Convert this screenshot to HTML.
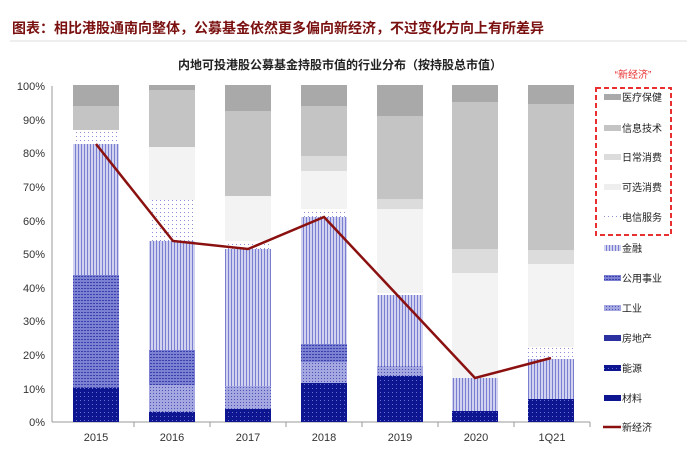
<!DOCTYPE html><html><head><meta charset="utf-8"><style>body{margin:0;background:#fff}svg{display:block}text{font-family:"Liberation Sans","Noto Sans CJK SC",sans-serif}</style></head><body>
<svg width="687" height="450" xmlns="http://www.w3.org/2000/svg">
<defs>
<pattern id="tel" width="4" height="4" patternUnits="userSpaceOnUse"><rect width="4" height="4" fill="#fff"/><rect width="1" height="1" fill="#8d90d6"/></pattern>
<pattern id="fin" width="3" height="3" patternUnits="userSpaceOnUse"><rect width="3" height="3" fill="#d0d2f0"/><rect width="1" height="3" fill="#7a7ed0"/></pattern>
<pattern id="pub" width="3" height="3" patternUnits="userSpaceOnUse"><rect width="3" height="3" fill="#7d81d2"/><rect width="2" height="1" fill="#3a3fae"/></pattern>
<pattern id="ind" width="3" height="3" patternUnits="userSpaceOnUse"><rect width="3" height="3" fill="#a4a7e0"/><rect width="1" height="1" fill="#4c51b8"/></pattern>
<pattern id="dk" width="4" height="4" patternUnits="userSpaceOnUse"><rect width="4" height="4" fill="#0d1590"/><rect width="1" height="1" fill="#6a70c8"/></pattern>
</defs>
<text x="12" y="33" font-size="14" font-weight="bold" fill="#7a1010">图表：相比港股通南向整体，公募基金依然更多偏向新经济，不过变化方向上有所差异</text>
<line x1="10" y1="41" x2="687" y2="41" stroke="#ddd"/>
<text x="340" y="69" font-size="12" font-weight="bold" text-anchor="middle" fill="#222">内地可投港股公募基金持股市值的行业分布（按持股总市值）</text>
<g font-size="11" fill="#333" text-anchor="end">
<text x="45" y="90">100%</text><text x="45" y="124">90%</text><text x="45" y="157">80%</text><text x="45" y="191">70%</text><text x="45" y="225">60%</text><text x="45" y="258">50%</text><text x="45" y="292">40%</text><text x="45" y="325">30%</text><text x="45" y="359">20%</text><text x="45" y="393">10%</text><text x="45" y="426">0%</text>
</g>
<line x1="52" y1="86" x2="52" y2="422" stroke="#999"/>
<line x1="52" y1="422" x2="590" y2="422" stroke="#999"/>
<g stroke="#999"><line x1="134" y1="422" x2="134" y2="427"/><line x1="210" y1="422" x2="210" y2="427"/><line x1="286" y1="422" x2="286" y2="427"/><line x1="362" y1="422" x2="362" y2="427"/><line x1="438" y1="422" x2="438" y2="427"/><line x1="514" y1="422" x2="514" y2="427"/><line x1="590" y1="422" x2="590" y2="427"/></g>
<!-- 2015 -->
<g><rect x="73" y="85" width="46" height="21" fill="#a9a9a9"/><rect x="73" y="106" width="46" height="24" fill="#c4c4c4"/><rect x="73" y="130" width="46" height="14" fill="url(#tel)"/><rect x="73" y="144" width="46" height="131" fill="url(#fin)"/><rect x="73" y="275" width="46" height="113" fill="url(#pub)"/><rect x="73" y="388" width="46" height="34" fill="url(#dk)"/></g>
<!-- 2016 -->
<g><rect x="149" y="85" width="46" height="5" fill="#a9a9a9"/><rect x="149" y="90" width="46" height="57" fill="#c4c4c4"/><rect x="149" y="147" width="46" height="53" fill="#f3f3f3"/><rect x="149" y="200" width="46" height="41" fill="url(#tel)"/><rect x="149" y="241" width="46" height="109" fill="url(#fin)"/><rect x="149" y="350" width="46" height="35" fill="url(#pub)"/><rect x="149" y="385" width="46" height="27" fill="url(#ind)"/><rect x="149" y="412" width="46" height="10" fill="url(#dk)"/></g>
<!-- 2017 -->
<g><rect x="225" y="85" width="46" height="26" fill="#a9a9a9"/><rect x="225" y="111" width="46" height="85" fill="#c4c4c4"/><rect x="225" y="196" width="46" height="45" fill="#f3f3f3"/><rect x="225" y="241" width="46" height="8" fill="url(#tel)"/><rect x="225" y="249" width="46" height="137" fill="url(#fin)"/><rect x="225" y="386" width="46" height="23" fill="url(#ind)"/><rect x="225" y="409" width="46" height="13" fill="url(#dk)"/></g>
<!-- 2018 -->
<g><rect x="301" y="85" width="46" height="21" fill="#a9a9a9"/><rect x="301" y="106" width="46" height="50" fill="#c4c4c4"/><rect x="301" y="156" width="46" height="15" fill="#dcdcdc"/><rect x="301" y="171" width="46" height="38" fill="#f3f3f3"/><rect x="301" y="209" width="46" height="8" fill="url(#tel)"/><rect x="301" y="217" width="46" height="127" fill="url(#fin)"/><rect x="301" y="344" width="46" height="18" fill="url(#pub)"/><rect x="301" y="362" width="46" height="21" fill="url(#ind)"/><rect x="301" y="383" width="46" height="39" fill="url(#dk)"/></g>
<!-- 2019 -->
<g><rect x="377" y="85" width="46" height="31" fill="#a9a9a9"/><rect x="377" y="116" width="46" height="83" fill="#c4c4c4"/><rect x="377" y="199" width="46" height="10" fill="#dcdcdc"/><rect x="377" y="209" width="46" height="84" fill="#f3f3f3"/><rect x="377" y="293" width="46" height="2" fill="url(#tel)"/><rect x="377" y="295" width="46" height="71" fill="url(#fin)"/><rect x="377" y="366" width="46" height="10" fill="url(#ind)"/><rect x="377" y="376" width="46" height="46" fill="url(#dk)"/></g>
<!-- 2020 -->
<g><rect x="452" y="85" width="46" height="17" fill="#a9a9a9"/><rect x="452" y="102" width="46" height="147" fill="#c4c4c4"/><rect x="452" y="249" width="46" height="24" fill="#dcdcdc"/><rect x="452" y="273" width="46" height="105" fill="#f3f3f3"/><rect x="452" y="378" width="46" height="33" fill="url(#fin)"/><rect x="452" y="411" width="46" height="11" fill="url(#dk)"/></g>
<!-- 1Q21 -->
<g><rect x="528" y="85" width="46" height="19" fill="#a9a9a9"/><rect x="528" y="104" width="46" height="146" fill="#c4c4c4"/><rect x="528" y="250" width="46" height="14" fill="#dcdcdc"/><rect x="528" y="264" width="46" height="83" fill="#f3f3f3"/><rect x="528" y="347" width="46" height="12" fill="url(#tel)"/><rect x="528" y="359" width="46" height="40" fill="url(#fin)"/><rect x="528" y="399" width="46" height="23" fill="url(#dk)"/></g>
<polyline points="96,144 173,241 248,249 324,217 400,298 475,378 551,358" fill="none" stroke="#8b1111" stroke-width="2.5"/>
<g font-size="11" fill="#333" text-anchor="middle"><text x="96" y="441">2015</text><text x="172" y="441">2016</text><text x="248" y="441">2017</text><text x="324" y="441">2018</text><text x="400" y="441">2019</text><text x="476" y="441">2020</text><text x="552" y="441">1Q21</text></g>
<text x="633" y="78" font-size="10" fill="#e83030" text-anchor="middle">“新经济”</text>
<rect x="596" y="88" width="75" height="147" fill="none" stroke="#e83030" stroke-width="2" stroke-dasharray="5,3"/>
<g font-size="10" fill="#222">
<rect x="604" y="94" width="17" height="6" fill="#a9a9a9"/><text x="622" y="101">医疗保健</text>
<rect x="604" y="125" width="17" height="6" fill="#c4c4c4"/><text x="622" y="132">信息技术</text>
<rect x="604" y="154" width="17" height="6" fill="#dcdcdc"/><text x="622" y="161">日常消费</text>
<rect x="604" y="184" width="17" height="6" fill="#eeeeee"/><text x="622" y="191">可选消费</text>
<rect x="604" y="214" width="17" height="6" fill="url(#tel)"/><text x="622" y="221">电信服务</text>
<rect x="604" y="245" width="17" height="6" fill="url(#fin)"/><text x="622" y="252">金融</text>
<rect x="604" y="275" width="17" height="6" fill="url(#pub)"/><text x="622" y="282">公用事业</text>
<rect x="604" y="305" width="17" height="6" fill="url(#ind)"/><text x="622" y="312">工业</text>
<rect x="604" y="335" width="17" height="6" fill="#2a30a0"/><text x="622" y="342">房地产</text>
<rect x="604" y="365" width="17" height="6" fill="url(#dk)"/><text x="622" y="372">能源</text>
<rect x="604" y="395" width="17" height="6" fill="#0d1590"/><text x="622" y="402">材料</text>
<line x1="603" y1="427" x2="621" y2="427" stroke="#8b1111" stroke-width="2.5"/><text x="622" y="431">新经济</text>
</g>
</svg></body></html>
